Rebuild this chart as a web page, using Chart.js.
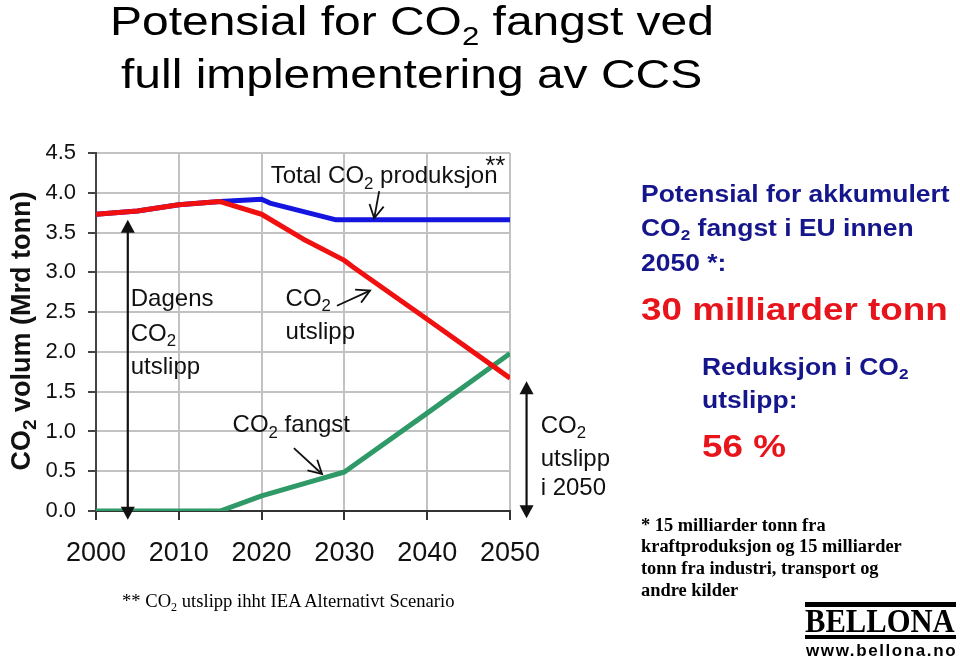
<!DOCTYPE html>
<html lang="no">
<head>
<meta charset="utf-8">
<title>Potensial for CO2 fangst ved full implementering av CCS</title>
<script src="https://cdn.jsdelivr.net/npm/chart.js@4.4.1/dist/chart.umd.min.js"></script>
<style>
  html, body { margin: 0; padding: 0; background: #fff; }
  #slide { position: relative; width: 960px; height: 663px; overflow: hidden;
           font-family: "Liberation Sans", Arial, sans-serif; }
  #chart { position: absolute; left: 0; top: 0; }
  .t { position: absolute; white-space: nowrap; transform-origin: 0 0; }
  sub { font-size: 0.65em; vertical-align: -0.3em; line-height: 0; }
  .title { font-size: 41px; line-height: 41px; color: #000; transform: scaleX(1.17); }
  .title sub { vertical-align: -0.38em; }
  .navy { font-weight: bold; font-size: 23px; color: #15158c; transform: scaleX(1.15); }
  .big { font-weight: bold; font-size: 32px; line-height: 32px; color: #e8141c; transform: scaleX(1.15); }
  .serif { font-family: "Liberation Serif", "Times New Roman", serif; color: #000; }
  .foot { font-weight: bold; font-size: 18.4px; line-height: 21.7px; }
  .iea { font-size: 18.6px; line-height: 20px; }
  .bar { position: absolute; background: #000; }
  .logo { font-family: "Liberation Serif", "Times New Roman", serif; font-weight: bold;
          font-size: 34px; line-height: 34px; color: #000; transform: scaleX(0.9); }
  .www { font-weight: bold; font-size: 17px; line-height: 17px; letter-spacing: 1.6px; color: #000; }
</style>
</head>
<body>
<div id="slide">
  <canvas id="chart" width="960" height="663"></canvas>

  <div class="t title" style="left:110px; top:1.3px;">Potensial for CO<sub>2</sub> fangst ved</div>
  <div class="t title" style="left:121px; top:54.3px;">full implementering av CCS</div>

  <div class="t navy" style="left:641px; top:176.5px; line-height:34.5px;">Potensial for akkumulert<br>CO<sub>2</sub> fangst i EU innen<br>2050 *:</div>
  <div class="t big" style="left:641px; top:292.9px;">30 milliarder tonn</div>
  <div class="t navy" style="left:702px; top:350.5px; line-height:33px;">Reduksjon i CO<sub>2</sub><br>utslipp:</div>
  <div class="t big" style="left:702px; top:429.6px;">56 %</div>

  <div class="t serif foot" style="left:641px; top:514.6px;">* 15 milliarder tonn fra<br>kraftproduksjon og 15 milliarder<br>tonn fra industri, transport og<br>andre kilder</div>
  <div class="t serif iea" style="left:122px; top:590.7px;">** CO<sub>2</sub> utslipp ihht IEA Alternativt Scenario</div>

  <div class="bar" style="left:805px; top:602px; width:151px; height:5px;"></div>
  <div class="t logo" style="left:805px; top:604.4px;">BELLONA</div>
  <div class="bar" style="left:805px; top:635px; width:151px; height:4px;"></div>
  <div class="t www" style="left:806px; top:642.3px;">www.bellona.no</div>
</div>

<script>
// Chart data (Mrd tonn CO2 per year)
var xTickValues = [2000, 2010, 2020, 2030, 2040, 2050];
var yTickValues = [0, 0.5, 1, 1.5, 2, 2.5, 3, 3.5, 4, 4.5];

// Total CO2 produksjon (blue)
var totalYears = [2000, 2005, 2010, 2015, 2020, 2021, 2029, 2050];
var totalValues = [3.73, 3.77, 3.85, 3.89, 3.92, 3.87, 3.66, 3.66];

// CO2 utslipp (red)
var emissionYears = [2000, 2005, 2010, 2015, 2020, 2025, 2030, 2031, 2040, 2050];
var emissionValues = [3.73, 3.77, 3.85, 3.89, 3.73, 3.42, 3.15, 3.07, 2.41, 1.67];

// CO2 fangst (green)
var captureYears = [2000, 2015, 2020, 2027, 2030, 2040, 2050];
var captureValues = [0, 0, 0.19, 0.40, 0.49, 1.23, 1.98];

var FONT = '"Liberation Sans", Arial, sans-serif';

// Labels and arrows placed in chart units (year, value)
var notes = [
  { text: 'Total CO_2 produksjon', x: 2021.1, y: 4.12 },
  { text: '**', x: 2047.0, y: 4.24, size: 26 },
  { text: 'Dagens', x: 2004.2, y: 2.58 },
  { text: 'CO_2', x: 2004.2, y: 2.14 },
  { text: 'utslipp', x: 2004.2, y: 1.72 },
  { text: 'CO_2', x: 2022.9, y: 2.58 },
  { text: 'utslipp', x: 2022.9, y: 2.16 },
  { text: 'CO_2 fangst', x: 2016.5, y: 0.99 },
  { text: 'CO_2', x: 2053.7, y: 0.98 },
  { text: 'utslipp', x: 2053.7, y: 0.56 },
  { text: 'i 2050', x: 2053.7, y: 0.20 }
];

var arrows = [
  { from: [2003.84, 3.66], to: [2003.84, -0.11], both: true },
  { from: [2052.0, 1.63], to: [2052.0, -0.09], both: true },
  { from: [2034.2, 4.02], to: [2033.6, 3.68] },
  { from: [2029.1, 2.58], to: [2033.1, 2.77] },
  { from: [2023.9, 0.79], to: [2027.3, 0.465] }
];

function pieces(str) {
  return str.split(/(_\d)/).filter(Boolean).map(function(s) {
    return s[0] === '_' ? { t: s.slice(1), sub: true } : { t: s, sub: false };
  });
}

function richWidth(ctx, str, size, weight) {
  var w = 0;
  pieces(str).forEach(function(p) {
    ctx.font = weight + ' ' + (p.sub ? size * 0.7 : size) + 'px ' + FONT;
    w += ctx.measureText(p.t).width;
  });
  return w;
}

function drawRich(ctx, str, x, y, size, weight) {
  var cx = x;
  pieces(str).forEach(function(p) {
    ctx.font = weight + ' ' + (p.sub ? size * 0.7 : size) + 'px ' + FONT;
    ctx.fillText(p.t, cx, p.sub ? y + size * 0.22 : y);
    cx += ctx.measureText(p.t).width;
  });
}

function solidHead(ctx, x1, y1, x2, y2, len, half) {
  var a = Math.atan2(y2 - y1, x2 - x1);
  ctx.beginPath();
  ctx.moveTo(x2, y2);
  ctx.lineTo(x2 - len * Math.cos(a) + half * Math.sin(a), y2 - len * Math.sin(a) - half * Math.cos(a));
  ctx.lineTo(x2 - len * Math.cos(a) - half * Math.sin(a), y2 - len * Math.sin(a) + half * Math.cos(a));
  ctx.closePath();
  ctx.fill();
}

function openHead(ctx, x1, y1, x2, y2, len) {
  var a = Math.atan2(y2 - y1, x2 - x1);
  var spread = 0.5;
  ctx.beginPath();
  ctx.moveTo(x2 - len * Math.cos(a - spread), y2 - len * Math.sin(a - spread));
  ctx.lineTo(x2, y2);
  ctx.lineTo(x2 - len * Math.cos(a + spread), y2 - len * Math.sin(a + spread));
  ctx.stroke();
}

var annotate = {
  id: 'annotate',
  afterDatasetsDraw: function(chart) {
    var ctx = chart.ctx;
    var xs = chart.scales.x, ys = chart.scales.y;
    ctx.save();
    ctx.fillStyle = '#111';
    ctx.strokeStyle = '#111';
    ctx.textBaseline = 'alphabetic';
    ctx.textAlign = 'left';

    notes.forEach(function(n) {
      drawRich(ctx, n.text, xs.getPixelForValue(n.x), ys.getPixelForValue(n.y), n.size || 24, 'normal');
    });

    arrows.forEach(function(a) {
      var x1 = xs.getPixelForValue(a.from[0]), y1 = ys.getPixelForValue(a.from[1]);
      var x2 = xs.getPixelForValue(a.to[0]), y2 = ys.getPixelForValue(a.to[1]);
      if (a.both) {
        ctx.lineWidth = 2.2;
        ctx.beginPath();
        ctx.moveTo(x1, y1 + 8);
        ctx.lineTo(x2, y2 - 8);
        ctx.stroke();
        solidHead(ctx, x2, y2 - 20, x1, y1, 13, 7);
        solidHead(ctx, x1, y1 + 20, x2, y2, 13, 7);
      } else {
        ctx.lineWidth = 1.8;
        ctx.beginPath();
        ctx.moveTo(x1, y1);
        ctx.lineTo(x2, y2);
        ctx.stroke();
        openHead(ctx, x1, y1, x2, y2, 15);
      }
    });

    // y axis title, rotated
    var title = 'CO_2 volum (Mrd tonn)';
    var w = richWidth(ctx, title, 27, 'bold');
    ctx.translate(30, (chart.chartArea.top + chart.chartArea.bottom) / 2 - 1);
    ctx.rotate(-Math.PI / 2);
    drawRich(ctx, title, -w / 2, 0, 27, 'bold');
    ctx.restore();
  }
};

function points(xv, yv) {
  return xv.map(function(x, i) { return { x: x, y: yv[i] }; });
}

new Chart(document.getElementById('chart'), {
  type: 'line',
  data: {
    datasets: [
      { label: 'CO2 utslipp', data: points(emissionYears, emissionValues),
        borderColor: '#f01010', borderWidth: 5, order: 0 },
      { label: 'Total CO2 produksjon', data: points(totalYears, totalValues),
        borderColor: '#1515e0', borderWidth: 5, order: 1 },
      { label: 'CO2 fangst', data: points(captureYears, captureValues),
        borderColor: '#2f9968', borderWidth: 5, order: 2 }
    ]
  },
  options: {
    responsive: false,
    animation: false,
    events: [],
    elements: {
      point: { radius: 0 },
      line: { tension: 0, borderJoinStyle: 'round', fill: false }
    },
    layout: { padding: { left: 30, top: 153, right: 450, bottom: 92 } },
    plugins: { legend: { display: false }, tooltip: { enabled: false } },
    scales: {
      x: {
        type: 'linear',
        min: 2000,
        max: 2050,
        afterBuildTicks: function(s) { s.ticks = xTickValues.map(function(v) { return { value: v }; }); },
        afterFit: function(s) { s.height = 60; },
        ticks: {
          maxRotation: 0,
          autoSkip: false,
          padding: 17,
          color: '#111',
          font: { family: FONT, size: 27 },
          callback: function(v) { return String(v); }
        },
        grid: { color: '#c2c2c2', lineWidth: 2, tickColor: '#333', tickLength: 9, tickWidth: 2 },
        border: { color: '#333', width: 2 }
      },
      y: {
        min: 0,
        max: 4.5,
        afterBuildTicks: function(s) { s.ticks = yTickValues.map(function(v) { return { value: v }; }); },
        afterFit: function(s) { s.width = 66; },
        ticks: {
          padding: 12,
          color: '#111',
          font: { family: FONT, size: 22 },
          callback: function(v) { return v.toFixed(1); }
        },
        grid: { color: '#c2c2c2', lineWidth: 2, tickColor: '#444', tickLength: 8, tickWidth: 2 },
        border: { color: '#444', width: 2 }
      }
    }
  },
  plugins: [annotate]
});
</script>
</body>
</html>
